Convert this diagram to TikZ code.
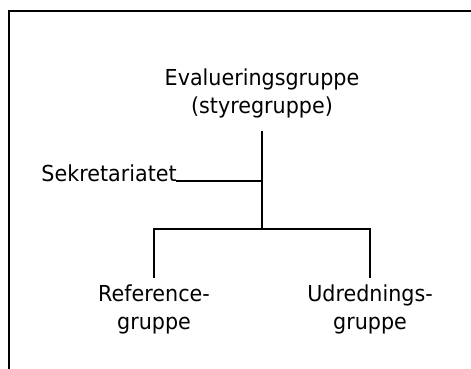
\documentclass[tikz,border=0pt]{standalone}
\usepackage{fontspec}
\setmainfont[FakeStretch=0.94]{DejaVu Sans}
\begin{document}
\begin{tikzpicture}[x=0.75pt,y=-0.75pt,
  lbl/.style={inner sep=0pt, align=center, font=\fontsize{16.5pt}{21pt}\selectfont},
  conn/.style={line width=1.3pt, line cap=rect}]
\useasboundingbox (0,0) rectangle (471,368);
\clip (0,0) rectangle (471,368);
\draw[line width=1.4pt] (9,11) rectangle (480,380);
% nodes (base anchor = baseline of the last line)
\node[lbl, anchor=base] (eval) at (262,113) {Evalueringsgruppe\\(styregruppe)};
\node[lbl, anchor=base east] (sek) at (177,181) {Sekretariatet};
\node[lbl, anchor=base] (ref) at (154,329) {Reference-\\gruppe};
\node[lbl, anchor=base] (udr) at (370,329) {Udrednings-\\gruppe};
% junctions
\coordinate (top) at (262,132);
\coordinate (jsek) at (262,181);
\coordinate (jbr) at (262,229);
\coordinate (lb) at (154,229);
\coordinate (rb) at (370,229);
\coordinate (lt) at (154,277);
\coordinate (rt) at (370,277);
% connectors
\draw[conn] (top) -- (jsek) -- (jbr);
\draw[conn] (sek.base east) -- (jsek);
\draw[conn] (lt) -- (lb) -- (rb) -- (rt);
\end{tikzpicture}
\end{document}
